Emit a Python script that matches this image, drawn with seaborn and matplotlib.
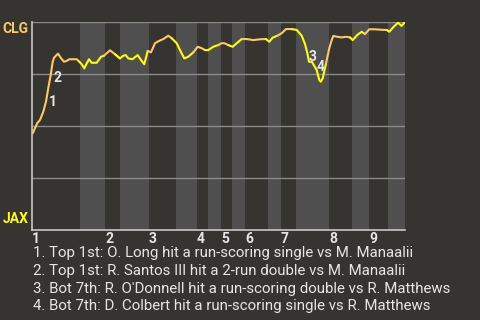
import matplotlib
matplotlib.use("Agg")
import matplotlib.pyplot as plt
import matplotlib.transforms as mtransforms
import seaborn as sns
import numpy as np
import pandas as pd

# ---- data ----
# game progress (0 = first pitch, 373 = last play) and CLG win probability (%)
progress = [0.7, 3.0, 5.3, 8.0, 11.3, 14.0, 16.3, 18.7, 20.7, 22.0, 24.0, 26.0, 28.7, 32.0,
            34.7, 37.3, 44.7, 47.3, 49.7, 52.3, 54.7, 57.0, 59.7, 64.7, 69.0, 72.0, 78.0,
            83.0, 88.0, 91.3, 93.7, 96.3, 100.3, 105.7, 109.0, 112.3, 115.7, 119.0, 123.0,
            127.0, 131.3, 136.3, 139.7, 144.7, 148.0, 152.3, 156.3, 161.3, 165.7, 169.7,
            173.0, 176.3, 181.3, 186.3, 189.7, 192.3, 196.3, 200.7, 204.7, 209.7, 214.7,
            221.3, 228.0, 234.0, 237.3, 240.7, 245.3, 249.7, 254.0, 259.7, 264.7, 269.7,
            273.0, 275.3, 277.0, 280.0, 284.7, 287.3, 288.7, 290.7, 294.0, 297.3, 299.7,
            301.3, 305.3, 309.7, 314.0, 318.0, 320.7, 325.3, 329.7, 333.0, 337.3, 343.0,
            351.3, 354.7, 357.3, 361.3, 366.0, 369.5, 373.0]
clg_wp = [46.5, 49.0, 51.4, 52.9, 56.9, 61.7, 68.3, 74.5, 80.9, 82.8, 83.8, 84.8, 82.8, 80.9,
          81.3, 82.1, 82.1, 80.9, 79.7, 77.7, 80.1, 82.1, 80.4, 80.4, 83.3, 83.8, 86.4,
          84.5, 82.5, 83.8, 84.1, 82.5, 82.1, 84.1, 81.7, 79.7, 86.1, 85.4, 89.8,
          90.9, 91.8, 93.4, 92.2, 89.8, 86.5, 82.5, 83.3, 85.4, 88.1, 87.4,
          86.5, 86.5, 88.1, 88.9, 89.8, 89.8, 88.9, 88.1, 89.8, 91.8, 91.8,
          91.3, 91.7, 91.8, 90.5, 92.5, 93.4, 94.6, 96.6, 96.6, 96.2, 93.4,
          89.4, 85.1, 80.9, 80.8, 76.9, 72.1, 71.3, 72.9, 80.1, 87.4, 91.3,
          93.3, 92.9, 92.6, 92.9, 92.6, 91.3, 93.8, 95.3, 94.2, 96.5, 96.5,
          96.2, 96.2, 95.3, 97.5, 99.7, 98.1, 100.0]

# half-inning start positions (top 1, bottom 1, top 2, ...) and game end
half_starts = [0, 48, 73, 88, 117, 144, 165, 176, 189, 200, 213, 236, 249, 264, 297, 320, 337, 356]
game_end = 373
innings = ["1", "2", "3", "4", "5", "6", "7", "8", "9"]

# key plays: index into the series and caption
key_idx = [5, 7, 73, 76]
key_labels = ["1", "2", "3", "4"]
captions = [
    "1. Top 1st: O. Long hit a run-scoring single vs M. Manaalii",
    "2. Top 1st: R. Santos III hit a 2-run double vs M. Manaalii",
    "3. Bot 7th: R. O'Donnell hit a run-scoring double vs R. Matthews",
    "4. Bot 7th: D. Colbert hit a run-scoring single vs R. Matthews",
]
teams = ["CLG", "JAX"]

# ---- styling ----
BG = "#363430"
BAND = "#4f4f4f"
ORANGE = "#ffc864"
YELLOW = "#ffff00"
TXT = "#e6e6e6"

sns.set_style("dark", {"axes.facecolor": BG, "figure.facecolor": BG})
plt.rcParams["font.family"] = ["Roboto", "DejaVu Sans"]

fig = plt.figure(figsize=(4.8, 3.2), dpi=100)
ax = fig.add_axes([32 / 480, 90 / 320, 373 / 480, 208 / 320])
ax.set_facecolor(BG)

df = pd.DataFrame({"x": progress, "wp": clg_wp})

bounds = half_starts + [game_end]
for i in range(len(half_starts)):
    a, b = bounds[i], bounds[i + 1]
    if i % 2 == 1:
        ax.axvspan(a, b, color=BAND, lw=0, zorder=0)
    mask = (df["x"] >= a) & (df["x"] <= b)
    idx = list(df.index[mask])
    if idx and idx[0] > 0:
        idx = [idx[0] - 1] + idx
    seg = df.loc[idx]
    if len(seg) > 1:
        sns.lineplot(data=seg, x="x", y="wp", ax=ax, color=ORANGE if i % 2 == 0 else YELLOW,
                     lw=1.5, sort=False, estimator=None, zorder=3)

for g in [25, 50, 75, 100]:
    ax.axhline(g, color="#8a8a8a", lw=1.0, zorder=1)

ax.set_xlim(0, game_end)
ax.set_ylim(0, 100)
ax.set_xticks([])
ax.set_yticks([])
ax.set_xlabel("")
ax.set_ylabel("")
for s in ["top", "right"]:
    ax.spines[s].set_visible(False)
for s in ["left", "bottom"]:
    ax.spines[s].set_visible(True)
    ax.spines[s].set_color("#c8c8c8")
    ax.spines[s].set_linewidth(1.2)

# team labels
ax.text(-0.01, 1.0, teams[0], transform=ax.transAxes, ha="right", va="top",
        color=ORANGE, fontsize=10, fontweight="bold")
ax.text(-0.01, 0.02, teams[1], transform=ax.transAxes, ha="right", va="bottom",
        color=YELLOW, fontsize=10, fontweight="bold")

# inning labels
trans = mtransforms.blended_transform_factory(ax.transData, ax.transAxes)
for k, lab in enumerate(innings):
    ax.text(half_starts[2 * k], -0.01, lab, transform=trans, ha="left", va="top",
            color=TXT, fontsize=10, fontweight="bold")

# key-play markers
offsets = [(7, 0), (7, -3), (5, -4), (4, 3)]
for i, lab, off in zip(key_idx, key_labels, offsets):
    ax.annotate(lab, (progress[i], clg_wp[i]), xytext=off, textcoords="offset pixels",
                ha="center", va="center", color=TXT, fontsize=10, fontweight="bold", zorder=5)

# captions
ys = [253, 271, 288.5, 306]
for t, y in zip(captions, ys):
    fig.text(33 / 480, 1 - y / 320, t, ha="left", va="center", color=TXT, fontsize=10.8)

fig.savefig("out.png", dpi=100, facecolor=BG)
